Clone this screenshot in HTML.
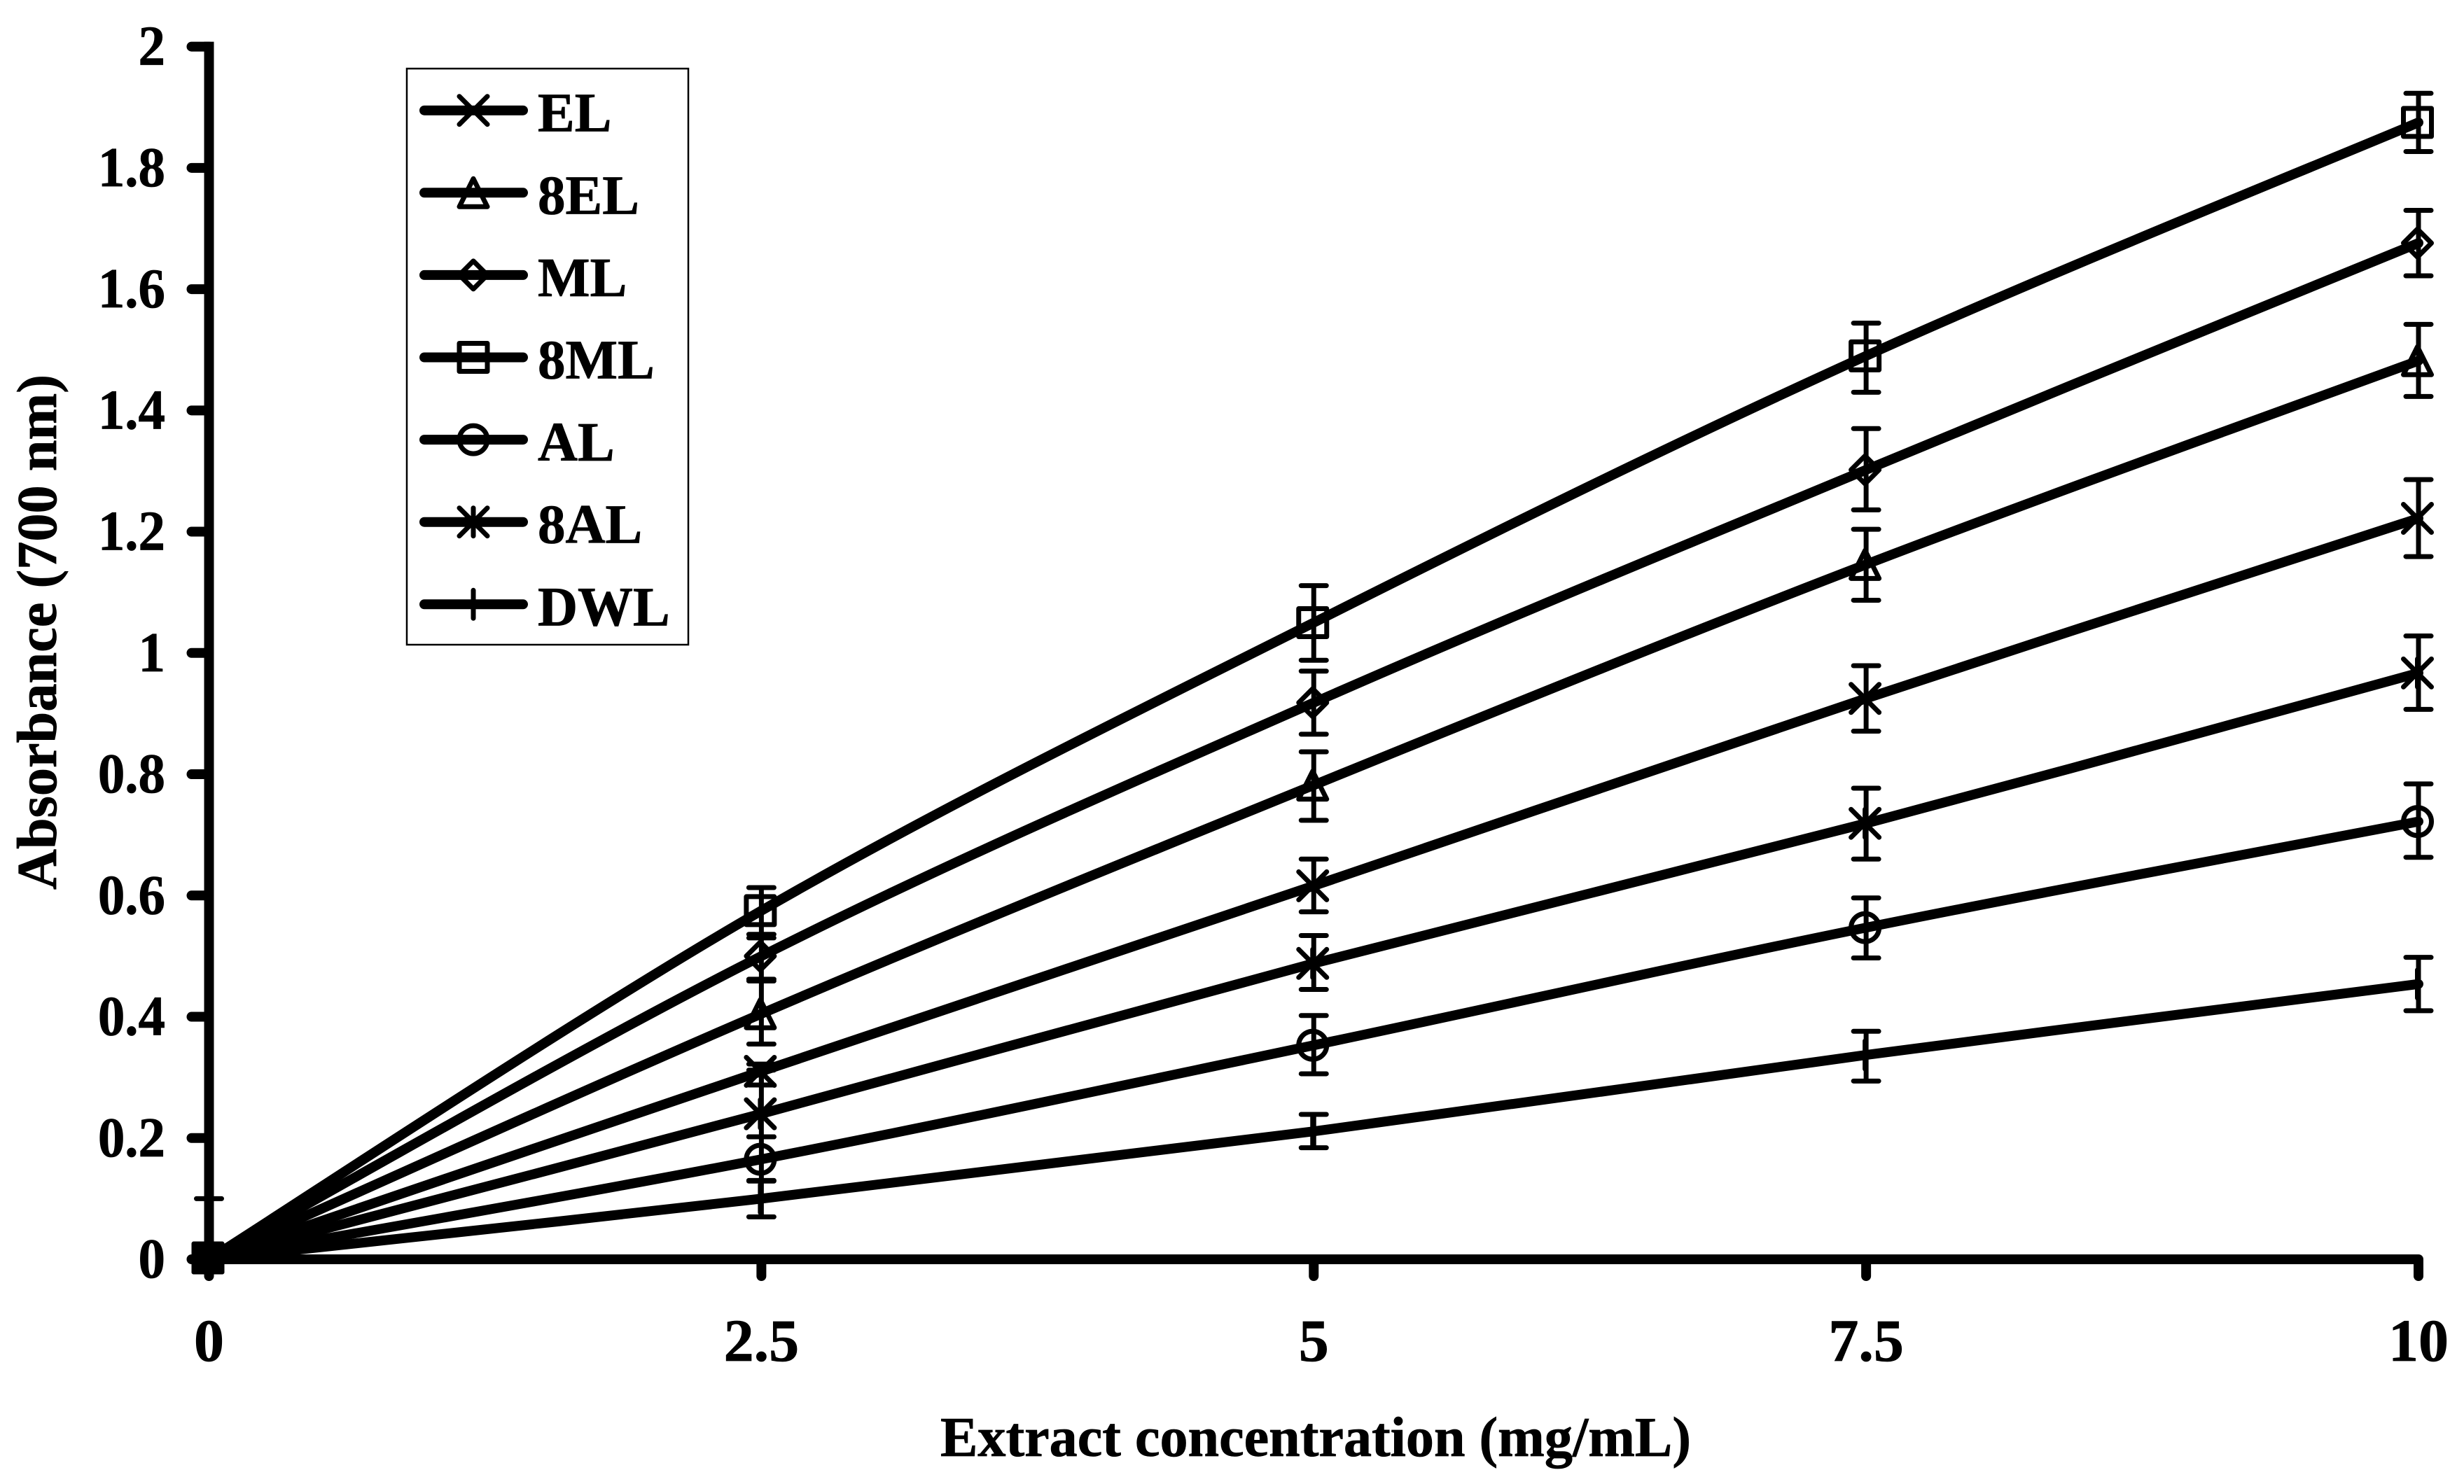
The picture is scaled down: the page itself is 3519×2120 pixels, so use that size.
<!DOCTYPE html>
<html lang="en">
<head>
<meta charset="utf-8">
<title>Absorbance vs extract concentration</title>
<style>
html,body{margin:0;padding:0;background:#fff;}
svg{display:block;}
text{font-family:"Liberation Serif",serif;font-weight:bold;fill:#000;stroke:#000;stroke-width:0.8px;}
</style>
</head>
<body>
<svg id="chart" xmlns="http://www.w3.org/2000/svg" width="3519" height="2120" viewBox="0 0 3519 2120">
<rect x="0" y="0" width="3519" height="2120" fill="#ffffff"/>
<g id="axes"></g>
<g id="series"></g>
<rect x="581" y="98" width="402" height="823" fill="none" stroke="#000" stroke-width="2.5"/>
<g id="legend"></g>
<text x="1343" y="2080" font-size="80" textLength="1072" lengthAdjust="spacingAndGlyphs">Extract concentration (mg/mL)</text>
<text transform="translate(80,1271) rotate(-90)" font-size="80" textLength="736" lengthAdjust="spacingAndGlyphs">Absorbance (700 nm)</text>
</svg>
<script>
var concentrations = [0, 2.5, 5, 7.5, 10];
var xTickLabels = ['0', '2.5', '5', '7.5', '10'];
var yTicks = [0, 0.2, 0.4, 0.6, 0.8, 1, 1.2, 1.4, 1.6, 1.8, 2];

var seriesNames = ['EL', '8EL', 'ML', '8ML', 'AL', '8AL', 'DWL'];
var seriesMarkers = ['x', 'triangle', 'diamond', 'square', 'circle', 'star', 'plus'];

var valuesEL  = [0, 0.31, 0.616, 0.925, 1.222];
var values8EL = [0, 0.405, 0.782, 1.146, 1.482];
var valuesML  = [0, 0.50, 0.918, 1.302, 1.676];
var values8ML = [0, 0.575, 1.05, 1.49, 1.875];
var valuesAL  = [0, 0.165, 0.353, 0.547, 0.722];
var values8AL = [0, 0.24, 0.488, 0.719, 0.967];
var valuesDWL = [0, 0.10, 0.211, 0.337, 0.454];

var errUpEL  = [0, 0.012, 0.044, 0.054, 0.064];
var errUp8EL = [0, 0.057, 0.055, 0.058, 0.06];
var errUpML  = [0, 0.036, 0.052, 0.068, 0.054];
var errUp8ML = [0, 0.038, 0.061, 0.054, 0.048];
var errUpAL  = [0, 0.037, 0.049, 0.049, 0.062];
var errUp8AL = [0, 0.072, 0.046, 0.058, 0.061];
var errUpDWL = [0.1, 0.03, 0.028, 0.039, 0.044];

var errDownEL  = [0, 0.0225, 0.043, 0.054, 0.063];
var errDown8EL = [0, 0.05, 0.058, 0.059, 0.059];
var errDownML  = [0, 0.041, 0.052, 0.066, 0.054];
var errDown8ML = [0, 0.045, 0.062, 0.06, 0.048];
var errDownAL  = [0, 0.036, 0.047, 0.05, 0.059];
var errDown8AL = [0, 0.038, 0.043, 0.059, 0.06];
var errDownDWL = [0, 0.03, 0.027, 0.043, 0.044];

var allValues = [valuesEL, values8EL, valuesML, values8ML, valuesAL, values8AL, valuesDWL];
var allErrUp = [errUpEL, errUp8EL, errUpML, errUp8ML, errUpAL, errUp8AL, errUpDWL];
var allErrDown = [errDownEL, errDown8EL, errDownML, errDown8ML, errDownAL, errDown8AL, errDownDWL];

var NS = 'http://www.w3.org/2000/svg';
function xScale(v) { return 298.5 + v * 315.55; }
function yScale(v) { return 1799 - v * 866.2; }

function make(parent, tag, attrs) {
  var el = document.createElementNS(NS, tag);
  for (var k in attrs) { el.setAttribute(k, attrs[k]); }
  parent.appendChild(el);
  return el;
}

function markerPath(kind, cx, cy) {
  var r = 20;
  var x0 = cx - r, x1 = cx + r, y0 = cy - r, y1 = cy + r;
  if (kind === 'x') return 'M' + x0 + ' ' + y0 + 'L' + x1 + ' ' + y1 + 'M' + x1 + ' ' + y0 + 'L' + x0 + ' ' + y1;
  if (kind === 'star') return 'M' + x0 + ' ' + y0 + 'L' + x1 + ' ' + y1 + 'M' + x1 + ' ' + y0 + 'L' + x0 + ' ' + y1 + 'M' + cx + ' ' + y0 + 'L' + cx + ' ' + y1;
  if (kind === 'plus') return 'M' + cx + ' ' + y0 + 'L' + cx + ' ' + y1;
  if (kind === 'triangle') return 'M' + cx + ' ' + y0 + 'L' + x1 + ' ' + y1 + 'L' + x0 + ' ' + y1 + 'Z';
  if (kind === 'diamond') return 'M' + cx + ' ' + y0 + 'L' + x1 + ' ' + cy + 'L' + cx + ' ' + y1 + 'L' + x0 + ' ' + cy + 'Z';
  if (kind === 'square') return 'M' + x0 + ' ' + y0 + 'H' + x1 + 'V' + y1 + 'H' + x0 + 'Z';
  return 'M' + x0 + ' ' + cy + 'A' + r + ' ' + r + ' 0 1 0 ' + x1 + ' ' + cy + 'A' + r + ' ' + r + ' 0 1 0 ' + x0 + ' ' + cy + 'Z';
}

function smoothPath(pts) {
  var d = 'M' + pts[0][0] + ' ' + pts[0][1];
  for (var i = 0; i < pts.length - 1; i++) {
    var p0 = pts[Math.max(i - 1, 0)], p1 = pts[i], p2 = pts[i + 1], p3 = pts[Math.min(i + 2, pts.length - 1)];
    d += 'C' + (p1[0] + (p2[0] - p0[0]) / 6) + ' ' + (p1[1] + (p2[1] - p0[1]) / 6) + ' ' +
         (p2[0] - (p3[0] - p1[0]) / 6) + ' ' + (p2[1] - (p3[1] - p1[1]) / 6) + ' ' + p2[0] + ' ' + p2[1];
  }
  return d;
}

var axes = document.getElementById('axes');
var seriesGroup = document.getElementById('series');
var legend = document.getElementById('legend');

var yAxisLine = make(axes, 'line', {x1: xScale(0), y1: yScale(2), x2: xScale(0), y2: yScale(0), stroke: '#000', 'stroke-width': 14, 'stroke-linecap': 'square'});


var xAxisLine = make(axes, 'line', {x1: xScale(0), y1: yScale(0), x2: xScale(10), y2: yScale(0), stroke: '#000', 'stroke-width': 14});



yTicks.forEach(function (t) {
  var y = yScale(t);
  var tick = make(axes, 'line', {x1: xScale(0) - 25, y1: y, x2: xScale(0), y2: y, stroke: '#000', 'stroke-width': 14, 'stroke-linecap': 'round'});
  
  
  var label = make(axes, 'text', {transform: 'translate(236,' + (y + 26) + ') scale(0.95,1)', 'text-anchor': 'end', 'font-size': 81});
  label.textContent = String(t);
  
  
});

concentrations.forEach(function (c, i) {
  var x = xScale(c);
  var tick = make(axes, 'line', {x1: x, y1: yScale(0), x2: x, y2: yScale(0) + 24, stroke: '#000', 'stroke-width': 14, 'stroke-linecap': 'round'});
  
  
  var label = make(axes, 'text', {x: x, y: 1944, 'text-anchor': 'middle', 'font-size': 86});
  label.textContent = xTickLabels[i];
  
  
});

seriesNames.forEach(function (name, s) {
  var vals = allValues[s], up = allErrUp[s], down = allErrDown[s], kind = seriesMarkers[s];
  var pts = vals.map(function (v, i) { return [xScale(concentrations[i]), yScale(v)]; });
  var group = make(seriesGroup, 'g', {});
  
  
  vals.forEach(function (v, i) {
    var x = pts[i][0], yHi = yScale(v + up[i]), yLo = yScale(v - down[i]);
    if (up[i] || down[i]) {
      var bar = make(group, 'path', {
        d: 'M' + x + ' ' + yHi + 'V' + yLo +
           'M' + (x - 18) + ' ' + yHi + 'H' + (x + 18) +
           'M' + (x - 18) + ' ' + yLo + 'H' + (x + 18),
        fill: 'none', stroke: '#000', 'stroke-width': 7, 'stroke-linecap': 'round'
      });
      
      
    }
    var marker = make(group, 'path', {
      d: markerPath(kind, x - 1.5, pts[i][1] - (i === 0 ? 2 : 0)),
      fill: i === 0 ? '#000' : 'none', stroke: '#000', 'stroke-width': 7, 'stroke-linejoin': 'round', 'stroke-linecap': 'round'
    });
    
    
  });
  var line = make(group, 'path', {d: smoothPath(pts), fill: 'none', stroke: '#000', 'stroke-width': 14, 'stroke-linecap': 'round', 'stroke-linejoin': 'round'});
  
  

  var rowY = 157.7 + s * 117.6;
  var entry = make(legend, 'g', {});
  
  
  make(entry, 'line', {x1: 606, y1: rowY, x2: 747, y2: rowY, stroke: '#000', 'stroke-width': 14, 'stroke-linecap': 'round'});
  make(entry, 'path', {d: markerPath(kind, 676, rowY), fill: 'none', stroke: '#000', 'stroke-width': 7, 'stroke-linejoin': 'round', 'stroke-linecap': 'round'});
  var text = make(entry, 'text', {x: 768, y: rowY + 30, 'font-size': 79});
  text.textContent = name;
  
  
});
</script>
</body>
</html>
